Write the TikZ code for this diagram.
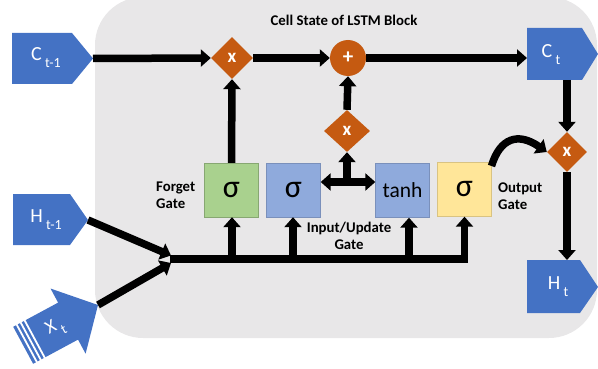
\documentclass[tikz,border=0pt]{standalone}
\usepackage{fontspec}
\setmainfont{Carlito}
\usetikzlibrary{arrows.meta,shapes.geometric}
\definecolor{bgc}{HTML}{E8E7E8}
\definecolor{pblue}{HTML}{4472C4}
\definecolor{orng}{HTML}{C55A11}
\definecolor{gboxc}{HTML}{A9D18E}
\definecolor{bboxc}{HTML}{8FAADC}
\definecolor{yboxc}{HTML}{FFE699}
\begin{document}
\begin{tikzpicture}[x=1pt,y=-1pt,
  arr/.style={line width=7.5pt, -{Triangle[width=17pt,length=10pt]}},
  ptext/.style={text=white, inner sep=0pt, font=\fontsize{20}{20}\selectfont},
  gbox/.style={minimum width=54pt, minimum height=54pt, inner sep=0pt,
    font=\fontsize{32}{32}\selectfont},
  mult/.style={diamond, fill=orng, inner sep=0pt, text=white,
    font=\bfseries\fontsize{19}{19}\selectfont},
  lbl/.style={font=\bfseries\fontsize{14.8}{17}\selectfont, align=left, inner sep=0pt}
]
\newcommand{\subtx}[1]{\raisebox{-0.35em}{\fontsize{14}{14}\selectfont #1}}
\useasboundingbox (0,0) rectangle (598,369);
% background
\fill[bgc, rounded corners=48pt] (95,-3) rectangle (597,338);

% inputs / outputs (pentagon arrows)
\fill[pblue] (12,33) -- (72,33) -- (93,58.5) -- (72,84) -- (12,84) -- cycle;
\coordinate (ct1) at (93,58.5);
\node[ptext] (ct1t) at (46,58) {C\,\subtx{t-1}};
\fill[pblue] (13,194) -- (70,194) -- (88,220) -- (70,245) -- (13,245) -- cycle;
\coordinate (ht1) at (88,220);
\node[ptext] (ht1t) at (46,220) {H\,\subtx{t-1}};
\fill[pblue] (527,28) -- (582,28) -- (598,54) -- (582,80) -- (527,80) -- cycle;
\coordinate (ctw) at (527,58);
\coordinate (cts) at (567,80);
\node[ptext] (ctt) at (551,55) {C\,\subtx{t}};
\fill[pblue] (527,260) -- (580,260) -- (598,287) -- (580,313) -- (527,313) -- cycle;
\coordinate (htn) at (567,260);
\node[ptext] (htt) at (558,287) {H\,\subtx{t}};

% X_t striped block arrow
\coordinate (xt) at (98,305);
\begin{scope}[shift={(98,305)}, rotate=28.3]
  \fill[pblue] (0,0) -- (-34,-37) -- (-34,-21) -- (-85,-21) -- (-85,21) -- (-34,21) -- (-34,37) -- cycle;
  \foreach \s in {-71,-75.5,-80}
    \fill[white] (\s,-22) rectangle (\s-1.8,22);
  \node[ptext, font=\fontsize{19}{19}\selectfont, rotate=28.3] (xtl) at (-48,0) {X\,\subtx{t}};
\end{scope}

% operators
\node[mult, minimum width=42pt, minimum height=42pt] (m1) at (232,58) {x};
\node[circle, fill=orng, minimum size=36pt, inner sep=0pt, text=white,
      font=\bfseries\fontsize{21}{21}\selectfont] (add) at (348,58) {+};
\node[mult, minimum width=46pt, minimum height=42pt] (m2) at (347,131) {x};
\node[mult, minimum width=40pt, minimum height=40pt] (m3) at (567,152) {x};

% gate boxes
\node[gbox, fill=gboxc, draw=gboxc!80!black] (f) at (231.5,190) {σ};
\node[gbox, fill=bboxc, draw=bboxc!85!black] (i) at (293.5,190) {σ};
\node[gbox, fill=bboxc, draw=bboxc!85!black, font=\fontsize{21.5}{21.5}\selectfont] (g) at (402.5,190.5) {tanh};
\node[gbox, fill=yboxc, draw=yboxc!85!black] (o) at (464.5,189.5) {σ};

% labels
\node[lbl, align=center] (title) at (344,20) {Cell State of LSTM Block};
\node[lbl, anchor=west] (fl) at (156,195) {Forget\\Gate};
\node[lbl, align=center] (il) at (349,236) {Input/Update\\Gate};
\node[lbl, anchor=west] (ol) at (498,196) {Output\\Gate};

% cell state line
\draw[arr] (ct1) -- (m1.west);
\draw[arr] (m1.east) -- (add.west);
\draw[arr] (add.east) -- (ctw);
\draw[arr] (m2.north) -- (add.south);
\draw[arr] (f.north) -- (m1.south);

% T junction
\coordinate (j) at (347,182);
\coordinate (j2) at (347,185.5);
\draw[arr] (j) -- (j -| i.east);
\draw[arr] (j) -- (j -| g.west);
\draw[arr] (j2) -- (m2.south);

% inputs to bus
\coordinate (busl) at (170,259);
\coordinate (hend) at (171,255.5);
\coordinate (xend) at (171,263);
\coordinate (busm) at (297,259);
\coordinate (bf) at (232,259);
\coordinate (bi) at (293,259);
\coordinate (bg) at (409,259);
\draw[arr] (ht1) -- (hend);
\draw[arr] (xt) -- (xend);
\draw[line width=7.5pt] (busl) -- (busm);
\draw[arr] (busl) -| (o.south);
\draw[arr] (bf) -- (bf |- f.south);
\draw[arr] (bi) -- (bi |- i.south);
\draw[arr] (bg) -- (bg |- g.south);

% output
\draw[arr] (cts) -- (m3.north);
\draw[arr] (m3.south) -- (htn);
\coordinate (ostart) at (491.5,166);
\draw[arr] (ostart) .. controls (500,138) and (518,132) .. (m3.west);
\end{tikzpicture}
\end{document}
